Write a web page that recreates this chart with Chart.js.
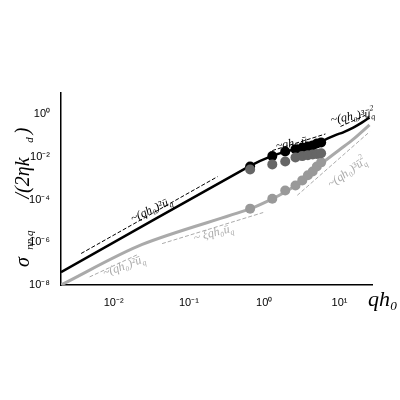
<!DOCTYPE html>
<html><head><script src="https://cdn.jsdelivr.net/npm/chart.js@4"></script>
<style>body{margin:0;background:#fff}#w{width:400px;height:400px}</style></head>
<body><div id="w"><canvas id="c"></canvas></div>
<script>
const blackLineX=[0.002,0.63,1.25,2.5,4.5,6.5,9,11,15,20,25];
const blackLineY=[4e-8,3.6e-3,1.1e-2,2.3e-2,3.8e-2,6.5e-2,1.1e-1,1.4e-1,2.3e-1,4.2e-1,0.72];
const grayLineX=[0.002,0.024,0.63,1.25,1.9,2.5,3.2,4.5,6,10,15,25];
const grayLineY=[1e-8,8e-7,3.6e-5,1.05e-4,2.3e-4,4.3e-4,8e-4,2.3e-3,5.5e-3,2.2e-2,6.5e-2,0.32];
const dotX=[0.65,1.28,1.9,2.6,3.2,3.8,4.4,5.0,5.7];
const dotBlack=[3.6e-3,1.1e-2,1.8e-2,2.3e-2,2.8e-2,3.1e-2,3.5e-2,4.3e-2,4.8e-2];
const dotDark=[2.6e-3,4.5e-3,6.2e-3,9.5e-3,1.1e-2,1.2e-2,1.3e-2,1.4e-2,1.5e-2];
const dotLight=[3.8e-5,1.1e-4,2.7e-4,4.6e-4,8e-4,1.4e-3,2.1e-3,3.6e-3,5.6e-3];
const guideBlack2X=[0.0037,0.24],guideBlack2Y=[3e-7,1.2e-3];
const guideBlack1X=[1.28,6.5],guideBlack1Y=[2e-2,0.12];
const guideBlack3X=[10.3,22],guideBlack3Y=[0.27,0.9];
const guideGray2X=[0.0048,0.021],guideGray2Y=[2.4e-8,2.7e-7];
const guideGray1X=[0.044,0.97],guideGray1Y=[8.7e-7,2.5e-5];
const guideGray3X=[2.75,25],guideGray3Y=[1.6e-4,0.15];
const xTicks=[0.01,0.1,1,10];
const yTicks=[1,1e-2,1e-4,1e-6,1e-8];
const sup={'-':'⁻','0':'⁰','1':'¹','2':'²','4':'⁴','6':'⁶','8':'⁸'};
const lab=v=>'10'+String(Math.round(Math.log10(v))).split('').map(c=>sup[c]).join('');
const pts=(xs,ys)=>xs.map((x,i)=>({x,y:ys[i]}));
const line=(xs,ys,c,w,dash)=>({type:'line',data:pts(xs,ys),borderColor:c,borderWidth:w,borderDash:dash||[],pointRadius:0,tension:0.3,fill:false});
const dots=(ys,c)=>({type:'scatter',data:pts(dotX,ys),backgroundColor:c,borderWidth:0,pointRadius:5});
const notes=[
 {x:0.03,y:3e-5,t:'~(qh₀)²ū',s:'q',c:'#000',r:-25},
 {x:2.3,y:4.2e-2,t:'~qh₀ ū',s:'q',c:'#000',r:-10},
 {x:14,y:0.75,t:'~(qh₀)³ū',s:'q',c:'#000',r:-10,s2:'2'},
 {x:0.013,y:7e-8,t:'~(qh₀)²ū',s:'q',c:'#aaa',r:-20},
 {x:0.2,y:2.5e-6,t:'~ ξqh₀ū',s:'q',c:'#aaa',r:-15},
 {x:12,y:1.6e-3,t:'~(qh₀)³ū',s:'q',c:'#aaa',r:-35,s2:'2'}
];
const txt={id:'txt',afterDraw(ch){const g=ch.ctx,xs=ch.scales.x,ys=ch.scales.y;g.save();
 notes.forEach(n=>{g.save();g.translate(xs.getPixelForValue(n.x),ys.getPixelForValue(n.y));g.rotate(n.r*Math.PI/180);
  g.fillStyle=n.c;g.font='italic 12px "Liberation Serif"';g.textAlign='center';g.textBaseline='middle';g.fillText(n.t,0,0);
  const w=g.measureText(n.t).width/2;g.font='italic 8px "Liberation Serif"';g.textAlign='left';g.fillText(n.s,w,4);if(n.s2)g.fillText(n.s2,w,-5);g.restore();});
 g.fillStyle='#000';g.font='italic 22px "Liberation Serif"';g.textAlign='left';g.textBaseline='middle';g.fillText('qh₀',368,300);
 g.save();g.translate(24,190);g.rotate(-Math.PI/2);g.textAlign='center';g.font='italic 20px "Liberation Serif"';g.fillText('σ',-72,0);
 g.font='italic 11px "Liberation Serif"';g.fillText('nn,q',-50,6);g.font='italic 20px "Liberation Serif"';g.fillText('/(2ηk',12,0);
 g.font='italic 11px "Liberation Serif"';g.fillText('d',50,6);g.font='italic 20px "Liberation Serif"';g.fillText(')',59,0);g.restore();
 g.restore();}};
new Chart(document.getElementById('c'),{data:{datasets:[
 line(guideBlack2X,guideBlack2Y,'#000',1,[4,2]),line(guideBlack1X,guideBlack1Y,'#000',1,[4,2]),line(guideBlack3X,guideBlack3Y,'#000',1,[4,2]),
 line(guideGray2X,guideGray2Y,'#aaa',1,[4,2]),line(guideGray1X,guideGray1Y,'#aaa',1,[4,2]),line(guideGray3X,guideGray3Y,'#aaa',1,[4,2]),
 dots(dotDark,'#666'),dots(dotLight,'#999'),
 line(grayLineX,grayLineY,'#aaa',3),line(blackLineX,blackLineY,'#000',2.5),dots(dotBlack,'#000')]},
 options:{animation:false,responsive:true,maintainAspectRatio:false,layout:{padding:{top:93,right:28}},
  plugins:{legend:{display:false},tooltip:{enabled:false}},
  scales:{x:{type:'logarithmic',min:0.002,max:27,afterBuildTicks:s=>{s.ticks=xTicks.map(v=>({value:v}))},afterFit:s=>{s.height=115},
    grid:{display:false,drawTicks:true},border:{color:'#000',width:1.5},ticks:{color:'#000',font:{size:11,family:'Liberation Sans'},callback:v=>lab(v),maxRotation:0}},
   y:{type:'logarithmic',min:1e-8,max:10,afterBuildTicks:s=>{s.ticks=yTicks.map(v=>({value:v}))},afterFit:s=>{s.width=61},
    grid:{display:false},border:{color:'#000',width:1.5},ticks:{color:'#000',font:{size:11,family:'Liberation Sans'},callback:v=>lab(v)}}}},
 plugins:[txt]});
</script></body></html>
